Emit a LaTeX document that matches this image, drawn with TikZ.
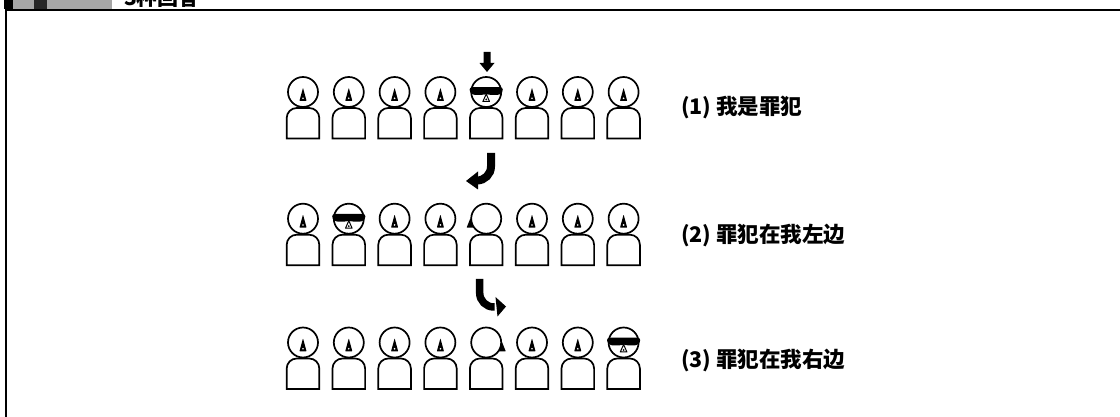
\documentclass[tikz,border=0pt]{standalone}
\usepackage{fontspec}
\newfontfamily\cjk{Noto Sans CJK SC}
\begin{document}
\begin{tikzpicture}[x=1pt,y=1pt,
  outline/.style={line width=1.7pt, draw=black, fill=white},
  frameline/.style={line width=2pt, draw=black},
  label/.style={anchor=base west, inner sep=0pt, font=\cjk\bfseries\fontsize{21.5}{24}\selectfont},
  shaft/.style={line width=#1, draw=black},
  pics/person/.style={code={
    % body with rounded shoulders
    \draw[outline] (-16.3,-46.5) -- (-16.3,-26) arc[start angle=180,end angle=90,radius=10]
      -- (6.3,-16) arc[start angle=90,end angle=0,radius=10] -- (16.3,-46.5) -- cycle;
    % head
    \draw[outline] (0,0) circle[radius=15];
  }},
  pics/nosefront/.style={code={
    \fill[rounded corners=0.6] (0,4.2) -- (3.6,-9) -- (-3.6,-9) -- cycle;
    \fill[white] (0,-6.3) circle[radius=0.9];
  }},
  pics/noseside/.style={code={
    \fill[rounded corners=0.5] (#1*15.8,0.5) -- (#1*19.6,-9) -- (#1*12.8,-9) -- cycle;
  }},
  pics/glasses/.style={code={
    \fill[rounded corners=2.5] (-16.6,4.8) -- (16.6,4.8) -- (16.6,0) -- (13,-3) -- (2.6,-3)
      -- (0,-1.2) -- (-2.6,-3) -- (-13,-3) -- (-16.6,0) -- cycle;
    \draw[line width=1pt, line join=round] (0,-2) -- (3.3,-9.5) -- (-3.3,-9.5) -- cycle;
    \fill (0,-7.4) circle[radius=1];
  }},
]
\useasboundingbox (0,0) rectangle (1120,417);

% heading strip and frame
\fill[black] (4,408) rectangle (13,420);
\fill[gray!70] (13,408) rectangle (112,420);
\fill[black!85] (34,408) rectangle (47,420);
\node[anchor=base west, inner sep=0pt, font=\cjk\bfseries\fontsize{21}{24}\selectfont] (title) at (124,411.5) {3种回答};
\draw[frameline] (5.5,-2) -- (5.5,407) -- (1122,407);

% row 1: the culprit stands fifth
\foreach \i in {0,...,7} {
  \pic at ({303+45.8*\i},325) {person};
}
\foreach \i in {0,1,2,3,5,6,7} {
  \pic at ({303+45.8*\i},325) {nosefront};
}
\pic at ({303+45.8*4},325) {glasses};

% row 2: culprit second, the fifth looks left
\foreach \i in {0,...,7} {
  \pic at ({303+45.8*\i},198.3) {person};
}
\foreach \i in {0,2,3,5,6,7} {
  \pic at ({303+45.8*\i},198.3) {nosefront};
}
\pic at ({303+45.8*1},198.3) {glasses};
\pic at ({303+45.8*4},198.3) {noseside=-1};

% row 3: culprit eighth, the fifth looks right
\foreach \i in {0,...,7} {
  \pic at ({303+45.8*\i},74.5) {person};
}
\foreach \i in {0,1,2,3,5,6} {
  \pic at ({303+45.8*\i},74.5) {nosefront};
}
\pic at ({303+45.8*7},74.5) {glasses};
\pic at ({303+45.8*4},74.5) {noseside=1};

% arrows
\fill (483.5,365) -- (490.5,365) -- (490.5,354) -- (494.5,354) -- (487,345) -- (479.5,354) -- (483.5,354) -- cycle;

\coordinate (a1) at (491,264);
\draw[shaft=8pt] (a1) -- ++(0,-13.5) arc[start angle=0,end angle=-90,radius=14] -- ++(-1,0) coordinate (a1end);
\fill (478,245.5) -- (466,236) -- (478,227.5) -- cycle;

\coordinate (a2) at (479.7,138);
\draw[shaft=7.5pt] (a2) -- ++(0,-14) arc[start angle=180,end angle=270,radius=14] -- ++(1,0) coordinate (a2end);
\fill (495.5,120) -- (506,110.5) -- (497.5,100.5) -- cycle;

% statements
\node[label] (s1) at (681,302.5) {(1) 我是罪犯};
\node[label] (s2) at (681,174.2) {(2) 罪犯在我左边};
\node[label] (s3) at (681,49.2) {(3) 罪犯在我右边};
\end{tikzpicture}
\end{document}
